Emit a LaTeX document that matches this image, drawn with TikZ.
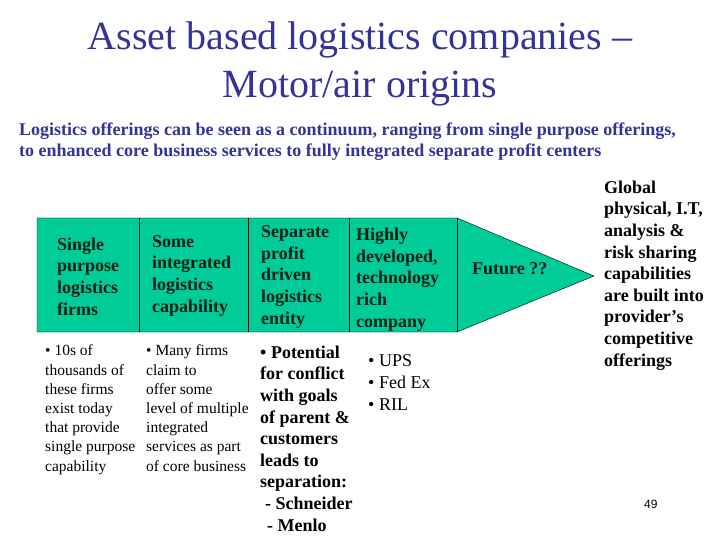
\documentclass[tikz,border=0pt]{standalone}
\usepackage{fontspec}
\setmainfont{Liberation Serif}
\setsansfont{Liberation Sans}
\definecolor{arrowgreen}{RGB}{0,204,153}
\definecolor{titleblue}{RGB}{51,51,153}
\definecolor{stagetext}{RGB}{0,30,20}

\begin{document}
\begin{tikzpicture}[x=1pt,y=-1pt,
  stage/.style={anchor=base west,inner sep=0pt,align=left,text=stagetext,font=\fontsize{18}{21.6}\selectfont\bfseries},
  note/.style={anchor=base west,inner sep=0pt,align=left,font=\fontsize{15.5}{19.2}\selectfont},
  boldnote/.style={stage,text=black}]
\useasboundingbox (0,0) rectangle (720,540);
% heading (base anchor sits on the last line)
\node[titleblue,anchor=base,inner sep=0pt,align=center,font=\fontsize{40}{48}\selectfont] (title) at (360,98) {Asset based logistics companies –\\Motor/air origins};
\node[titleblue,anchor=base west,inner sep=0pt,align=left,font=\fontsize{18}{21}\selectfont\bfseries] (lead) at (19,157) {Logistics offerings can be seen as a continuum, ranging from single purpose offerings,\\to enhanced core business services to fully integrated separate profit centers};
% the continuum arrow
\coordinate (tl) at (37,218);
\coordinate (bl) at (37,332);
\coordinate (tip) at (594,276);
\filldraw[fill=arrowgreen,draw=black] (tl) -- (457,218) -- (tip) -- (457,332) -- (bl) -- cycle;
\foreach \x in {139,248,349,457}
  \draw (\x,218) -- (\x,332);
\node[stage] (single) at (57,315) {Single\\purpose\\logistics\\firms};
\node[stage] (some) at (152,312) {Some\\integrated\\logistics\\capability};
\node[stage] (separate) at (261,324) {Separate\\profit\\driven\\logistics\\entity};
\node[stage] (highly) at (356,327) {Highly\\developed,\\technology\\rich\\company};
\node[stage] (future) at (472,274) {Future ??};
% notes below
\node[note] (tens) at (45,471) {• 10s of\\thousands of\\these firms\\exist today\\that provide\\single purpose\\capability};
\node[note] (many) at (146,471) {• Many firms\\claim to\\offer some\\level of multiple\\integrated\\services as part\\of core business};
\node[boldnote] (conflict) at (260,531) {• Potential\\for conflict\\with goals\\of parent \&\\customers\\leads to\\separation:\\\hspace{5pt}- Schneider\\\hspace{7pt}- Menlo};
\node[anchor=base west,inner sep=0pt,align=left,font=\fontsize{18}{21.6}\selectfont] (ups) at (368,410) {• UPS\\• Fed Ex\\• RIL};
\node[boldnote] (global) at (604,366) {Global\\physical, I.T,\\analysis \&\\risk sharing\\capabilities\\are built into\\provider’s\\competitive\\offerings};
\node[anchor=base west,inner sep=0pt,font=\sffamily\fontsize{12}{14}\selectfont] (page) at (644,508) {49};
\end{tikzpicture}
\end{document}
